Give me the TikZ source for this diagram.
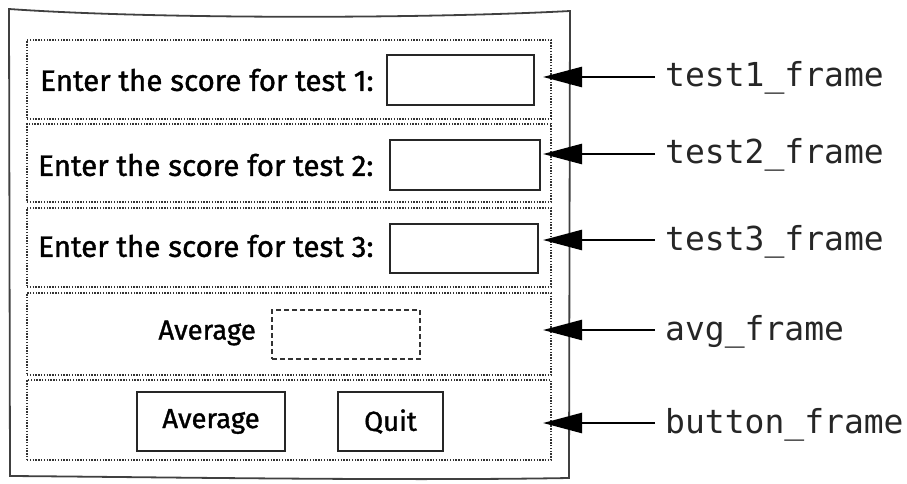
\documentclass[tikz,border=0pt]{standalone}
\usepackage{fontspec}
\setmainfont{Fira Sans}
\newfontfamily\handf[FakeBold=1.2]{Fira Sans}
\newfontfamily\monof{DejaVu Sans Mono}
\usetikzlibrary{arrows.meta}
\begin{document}
\begin{tikzpicture}[x=1pt,y=-1pt,
  frm/.style={draw=black!80, line width=1.3pt, dash pattern=on 1.4pt off 1.4pt, minimum width=524pt, inner sep=0pt},
  entrybox/.style={draw=black!85, line width=1.5pt, inner sep=0pt},
  dbox/.style={draw=black!80, line width=1.5pt, dash pattern=on 5pt off 3pt, inner sep=0pt},
  hand/.style={font=\handf\fontsize{27.5}{32}\selectfont, inner sep=0pt},
  handl/.style={font=\handf\fontsize{29.5}{32}\selectfont, inner sep=0pt},
  lab/.style={font=\monof\fontsize{33}{36}\selectfont, text=black!85, anchor=west, inner xsep=10pt, inner ysep=0pt, text height=20pt, text depth=0pt},
  arr/.style={line width=2.5pt, -{Triangle[length=39pt,width=20pt]}}
]
\useasboundingbox (0,0) rectangle (907,484);
% window outline
\draw[line width=1.8pt, black!75] (9,9) .. controls (150,19) and (420,19) .. (570,11) -- (569,478) .. controls (400,481) and (150,477) .. (10,476) -- cycle;
% frames
\node[frm, minimum height=79pt] (f1) at (289,79.5) {};
\node[frm, minimum height=78pt] (f2) at (289,163) {};
\node[frm, minimum height=79pt] (f3) at (289,247.5) {};
\node[frm, minimum height=82pt] (f4) at (289,334) {};
\node[frm, minimum height=80pt] (f5) at (289,420) {};
% entries
\node[entrybox, minimum width=147pt, minimum height=50pt] (e1) at (460.5,80) {};
\node[entrybox, minimum width=150pt, minimum height=50pt] (e2) at (465,165) {};
\node[entrybox, minimum width=148pt, minimum height=49pt] (e3) at (464,248.5) {};
\node[dbox, minimum width=148pt, minimum height=49pt] (ea) at (346,334.5) {};
% texts
\node[handl, anchor=west] (t1) at (40,80) {Enter the score for test 1:};
\node[handl, anchor=west] (t2) at (38,165) {Enter the score for test 2:};
\node[handl, anchor=west] (t3) at (38,246) {Enter the score for test 3:};
\node[hand, anchor=east] (ta) at (256,333) {Average};
% buttons
\node[entrybox, minimum width=148pt, minimum height=59pt, hand] (b1) at (211,421.5) {Average};
\node[entrybox, minimum width=105pt, minimum height=59pt, hand] (b2) at (390.5,421.5) {Quit};
% labels
\coordinate (tipx) at (543,0);
\node[lab] (l1) at (655,77) {test1\_frame};
\node[lab] (l2) at (655,154) {test2\_frame};
\node[lab] (l3) at (655,240) {test3\_frame};
\node[lab] (l4) at (655,330) {avg\_frame};
\node[lab] (l5) at (655,423) {button\_frame};
\foreach \i in {1,...,5} \draw[arr] (l\i.west) -- (l\i.west -| tipx);
\end{tikzpicture}
\end{document}
